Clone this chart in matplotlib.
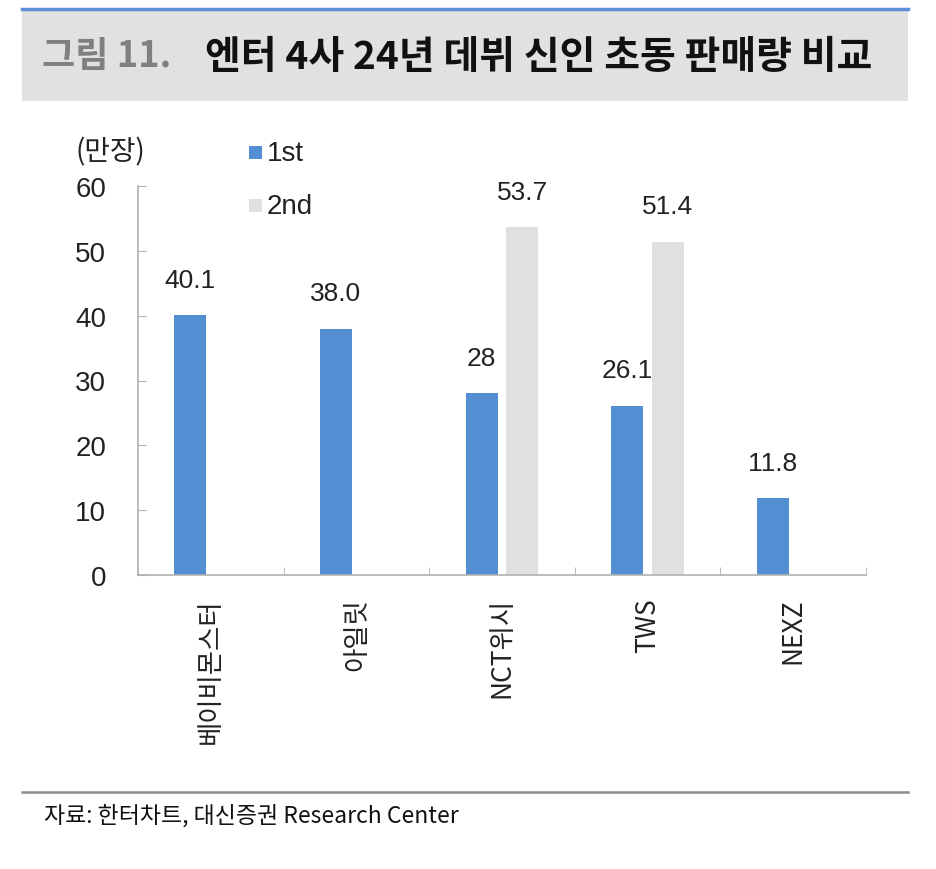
import matplotlib
matplotlib.use("Agg")
import matplotlib.pyplot as plt
from matplotlib.patches import Rectangle
import numpy as np

plt.rcParams['font.family'] = ['Noto Sans CJK KR', 'DejaVu Sans']

categories = ["베이비몬스터", "아일릿", "NCT위시", "TWS", "NEXZ"]
first = [40.1, 38.0, 28.0, 26.1, 11.8]
second = [None, None, 53.7, 51.4, None]
first_labels = ["40.1", "38.0", "28", "26.1", "11.8"]
second_labels = [None, None, "53.7", "51.4", None]
yticks = [0, 10, 20, 30, 40, 50, 60]

BLUE = "#538ed3"
GRAY = "#e0e0e0"
TXT = "#222222"
NUMFONT = ['Liberation Sans', 'DejaVu Sans']

W, H = 936, 870
fig = plt.figure(figsize=(W/100, H/100), dpi=100)

def fx(px): return px / W
def fy(py): return 1 - py / H

# title band
fig.patches.append(Rectangle((fx(22), fy(102)), fx(908)-fx(22), fy(10)-fy(102),
                             transform=fig.transFigure, facecolor="#e1e1e1", edgecolor="none", zorder=0))
fig.lines.append(plt.Line2D([fx(22), fx(908)], [fy(10), fy(10)], transform=fig.transFigure,
                            color="#5b8fd6", lw=2.5))
fig.text(fx(42), fy(57), "그림 11.", fontsize=26, fontweight="bold", color="#7f7f7f",
         va="center", ha="left")
fig.text(fx(205), fy(57), "엔터 4사 24년 데뷔 신인 초동 판매량 비교", fontsize=28, fontweight="bold",
         color="#111111", va="center", ha="left")

# footer
fig.lines.append(plt.Line2D([fx(22), fx(908)], [fy(793), fy(793)], transform=fig.transFigure,
                            color="#8c8c8c", lw=1.8))
fig.text(fx(44), fy(816), "자료: 한터차트, 대신증권 Research Center", fontsize=16.5,
         color="#111111", va="center", ha="left")

# axes
x0, x1, ytop, ybot = 138, 866, 187, 576
ax = fig.add_axes([fx(x0), fy(ybot), fx(x1)-fx(x0), fy(ytop)-fy(ybot)])
n = len(categories)
x = np.arange(n)
bw = 0.22
off = 0.14
ax.bar(x - off, first, width=bw, color=BLUE, zorder=2)
sx = [i for i in range(n) if second[i] is not None]
ax.bar(np.array(sx) + off, [second[i] for i in sx], width=bw, color=GRAY, zorder=2)

for i in range(n):
    ax.text(x[i] - off, first[i] + 3.6, first_labels[i], ha="center", va="bottom",
            fontsize=19, color=TXT, family=NUMFONT)
    if second[i] is not None:
        ax.text(x[i] + off, second[i] + 3.6, second_labels[i], ha="center", va="bottom",
                fontsize=19, color=TXT, family=NUMFONT)

ax.set_xlim(-0.5, n - 0.5)
ax.set_ylim(0, 60)
ax.set_yticks(yticks)
ax.set_yticklabels([str(v) for v in yticks], fontsize=20, color=TXT, family=NUMFONT)
ax.tick_params(axis="y", direction="in", length=6, color="#b0b0b0", pad=23)
ax.set_xticks(x)
ax.set_xticklabels(categories, rotation=90, fontsize=19, color=TXT, va="top", ha="center")
ax.tick_params(axis="x", length=0, pad=16)
ax.set_xticks(np.arange(n + 1) - 0.5, minor=True)
ax.tick_params(axis="x", which="minor", direction="in", length=6, color="#b0b0b0")
for s in ["top", "right"]:
    ax.spines[s].set_visible(False)
for s in ["left", "bottom"]:
    ax.spines[s].set_color("#b0b0b0")
    ax.spines[s].set_linewidth(1.2)

# unit label
fig.text(fx(75), fy(152), "(만장)", fontsize=20, color=TXT, va="center", ha="left")

# legend
fig.patches.append(Rectangle((fx(249), fy(160)), fx(13), fy(147)-fy(160), transform=fig.transFigure,
                             facecolor=BLUE, edgecolor="none"))
fig.text(fx(267), fy(154), "1st", fontsize=20, color=TXT, va="center", ha="left", family=NUMFONT)
fig.patches.append(Rectangle((fx(249), fy(213)), fx(13), fy(200)-fy(213), transform=fig.transFigure,
                             facecolor=GRAY, edgecolor="none"))
fig.text(fx(267), fy(207), "2nd", fontsize=20, color=TXT, va="center", ha="left", family=NUMFONT)

fig.savefig("out.png", dpi=100)
